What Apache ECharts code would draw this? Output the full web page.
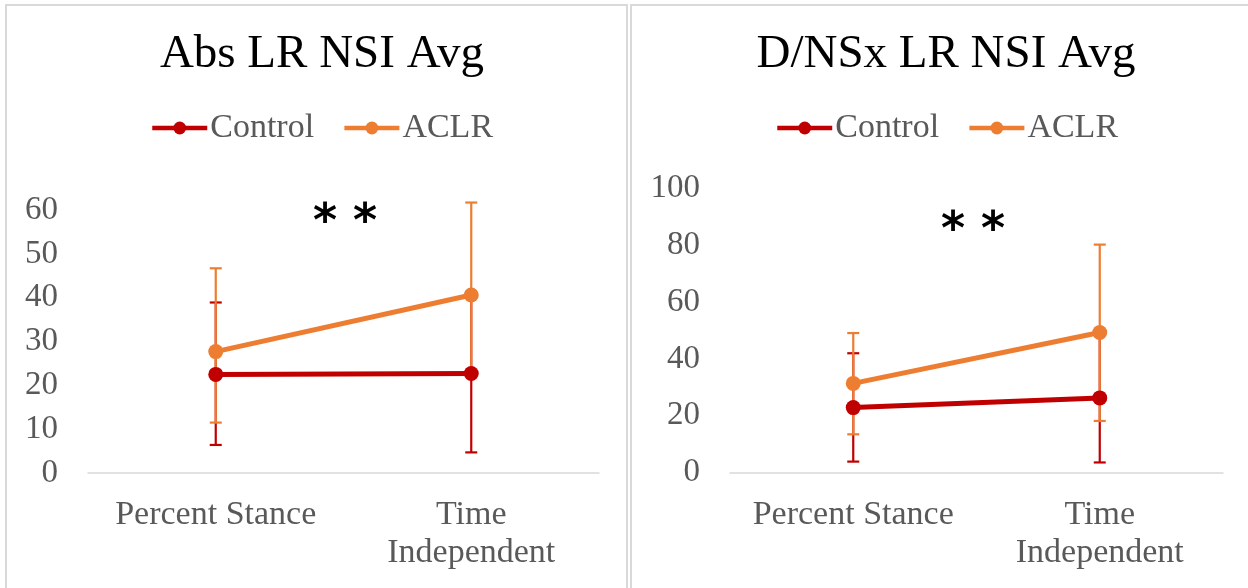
<!DOCTYPE html>
<html>
<head>
<meta charset="utf-8">
<script src="https://cdn.jsdelivr.net/npm/echarts@6/dist/echarts.min.js"></script>
<style>html,body{margin:0;padding:0;background:#fff;}#c{width:1248px;height:588px;}</style>
</head>
<body>
<div id="c"></div>
<script>
// ---- data ----
const categories = ['Percent Stance', 'Time\nIndependent'];
const seriesNames = ['Control', 'ACLR'];

// Left panel: Abs LR NSI Avg
const absControl = [22.5, 22.7];
const absControlLow = [6.4, 4.7];
const absControlHigh = [38.9, 40.6];
const absACLR = [27.7, 40.6];
const absACLRLow = [11.5, 22.7];
const absACLRHigh = [46.7, 61.7];

// Right panel: D/NSx LR NSI Avg
const dnsControl = [22.9, 26.3];
const dnsControlLow = [3.9, 3.6];
const dnsControlHigh = [42.0, 49.0];
const dnsACLR = [31.4, 49.3];
const dnsACLRLow = [13.5, 18.2];
const dnsACLRHigh = [49.1, 80.2];

const titles = ['Abs LR NSI Avg', 'D/NSx LR NSI Avg'];
const significance = '* *';

// ---- styles ----
const RED = '#C00000';
const ORANGE = '#ED7D31';
const FONT = 'Liberation Serif';
const GRAY = '#595959';

function errData(low, high) {
  return categories.map((c, i) => [i, low[i], high[i]]);
}
function errRender(color) {
  return function (params, api) {
    const x = api.value(0);
    const lo = api.coord([x, api.value(1)]);
    const hi = api.coord([x, api.value(2)]);
    const w = 6;
    const st = { stroke: color, lineWidth: 2.2 };
    return {
      type: 'group',
      children: [
        { type: 'line', shape: { x1: lo[0], y1: lo[1], x2: hi[0], y2: hi[1] }, style: st },
        { type: 'line', shape: { x1: hi[0] - w, y1: hi[1], x2: hi[0] + w, y2: hi[1] }, style: st },
        { type: 'line', shape: { x1: lo[0] - w, y1: lo[1], x2: lo[0] + w, y2: lo[1] }, style: st }
      ]
    };
  };
}
function errSeries(idx, low, high, color, z) {
  return {
    type: 'custom', xAxisIndex: idx, yAxisIndex: idx, z: z, clip: false,
    renderItem: errRender(color), data: errData(low, high),
    encode: { x: 0, y: [1, 2] }, silent: true
  };
}
function lineSeries(idx, name, data, color) {
  return {
    type: 'line', name: name, xAxisIndex: idx, yAxisIndex: idx, z: 5,
    data: data, symbol: 'circle', symbolSize: 15, showSymbol: true,
    lineStyle: { color: color, width: 5 }, itemStyle: { color: color },
    animation: false
  };
}
function xAxis(idx) {
  return {
    type: 'category', gridIndex: idx, data: categories, boundaryGap: true,
    axisLine: { lineStyle: { color: '#D9D9D9', width: 1.5 } },
    axisTick: { show: false },
    axisLabel: { color: GRAY, fontFamily: FONT, fontSize: 34, lineHeight: 38, margin: 23, interval: 0 }
  };
}
function yAxis(idx, max, interval) {
  return {
    type: 'value', gridIndex: idx, min: 0, max: max, interval: interval,
    axisLine: { show: false }, axisTick: { show: false }, splitLine: { show: false },
    axisLabel: { color: GRAY, fontFamily: FONT, fontSize: 33, margin: 30 }
  };
}
function legend(left) {
  return {
    data: seriesNames, left: left, top: 111, padding: 0, itemWidth: 55, itemHeight: 16, itemGap: 28,
    lineStyle: { width: 4.5 },
    textStyle: { fontFamily: FONT, fontSize: 34, color: GRAY, padding: [0, 0, 0, -2] }
  };
}

const chart = echarts.init(document.getElementById('c'), null, { renderer: 'canvas' });
chart.setOption({
  animation: false,
  backgroundColor: '#fff',
  title: [
    { text: titles[0], left: 322, top: 31, padding: 0, textAlign: 'center',
      textStyle: { fontFamily: FONT, fontSize: 47, fontWeight: 'normal', color: '#000' } },
    { text: titles[1], left: 946, top: 31, padding: 0, textAlign: 'center',
      textStyle: { fontFamily: FONT, fontSize: 47, fontWeight: 'normal', color: '#000' } }
  ],
  legend: [legend(150), legend(775)],
  grid: [
    { left: 88, right: 649, top: 210, bottom: 115 },
    { left: 730, right: 25, top: 188.3, bottom: 115.3 }
  ],
  xAxis: [xAxis(0), xAxis(1)],
  yAxis: [yAxis(0, 60, 10), yAxis(1, 100, 20)],
  series: [
    errSeries(0, absControlLow, absControlHigh, RED, 1),
    errSeries(0, absACLRLow, absACLRHigh, ORANGE, 2),
    lineSeries(0, 'Control', absControl, RED),
    lineSeries(0, 'ACLR', absACLR, ORANGE),
    errSeries(1, dnsControlLow, dnsControlHigh, RED, 1),
    errSeries(1, dnsACLRLow, dnsACLRHigh, ORANGE, 2),
    lineSeries(1, 'Control', dnsControl, RED),
    lineSeries(1, 'ACLR', dnsACLR, ORANGE)
  ],
  graphic: [
    { type: 'rect', shape: { x: 6, y: 5, width: 621, height: 620 }, style: { fill: 'none', stroke: '#D9D9D9', lineWidth: 2 }, silent: true, z: -1 },
    { type: 'rect', shape: { x: 631, y: 5, width: 640, height: 620 }, style: { fill: 'none', stroke: '#D9D9D9', lineWidth: 2 }, silent: true, z: -1 },
    { type: 'text', x: 345, y: 224, style: { text: significance, fontFamily: 'DejaVu Sans', fontWeight: 'bold', fontSize: 46, fill: '#000', align: 'center', verticalAlign: 'middle' } },
    { type: 'text', x: 973, y: 232, style: { text: significance, fontFamily: 'DejaVu Sans', fontWeight: 'bold', fontSize: 46, fill: '#000', align: 'center', verticalAlign: 'middle' } }
  ]
});
</script>
</body>
</html>
